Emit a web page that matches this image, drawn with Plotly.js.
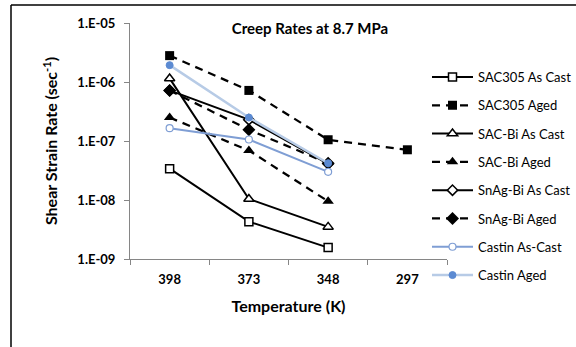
<!DOCTYPE html>
<html>
<head>
<meta charset="utf-8">
<script src="https://cdn.plot.ly/plotly-3.0.1.min.js"></script>
<style>html,body{margin:0;padding:0;background:#fff;overflow:hidden;}#chart{width:600px;height:347px;}</style>
</head>
<body>
<div id="chart"></div>
<script>
const temps = ['398', '373', '348', '297'];
const sac305AsCast = [3.4e-8, 4.3e-9, 1.56e-9];
const sac305Aged = [2.8e-6, 7.2e-7, 1.05e-7, 7.1e-8];
const sacBiAsCast = [1.15e-6, 1.04e-8, 3.5e-9];
const sacBiAged = [2.5e-7, 6.9e-8, 9.5e-9];
const snagBiAsCast = [7.2e-7, 2.3e-7, 4.1e-8];
const snagBiAged = [7.2e-7, 1.55e-7, 4.2e-8];
const castinAsCast = [1.65e-7, 1.06e-7, 3.0e-8];
const castinAged = [1.93e-6, 2.5e-7, 4.2e-8];
const seriesNames = ['SAC305 As Cast', 'SAC305 Aged', 'SAC-Bi As Cast', 'SAC-Bi Aged',
  'SnAg-Bi As Cast', 'SnAg-Bi Aged', 'Castin As-Cast', 'Castin Aged'];
const yTickVals = [1e-9, 1e-8, 1e-7, 1e-6, 1e-5];
const yTickText = ['1.E-09', '1.E-08', '1.E-07', '1.E-06', '1.E-05'];

const FONT = 'Lato, "Liberation Sans", sans-serif';
function tr(name, y, opts) {
  return Object.assign({
    type: 'scatter', mode: 'lines+markers', name: name, legendgroup: name,
    x: temps.slice(0, y.length), y: y
  }, opts);
}
const solid = {color: '#000', width: 2};
const dashed = {color: '#000', width: 2.25, dash: '8px,6px'};
const data = [
  tr(seriesNames[0], sac305AsCast, {line: solid, marker: {symbol: 'square', size: 8, color: '#fff', line: {color: '#000', width: 1.5}}}),
  tr(seriesNames[1], sac305Aged, {line: dashed, marker: {symbol: 'square', size: 9, color: '#000'}}),
  tr(seriesNames[2], sacBiAsCast, {line: solid, marker: {symbol: 'triangle-up', size: 9, color: '#fff', line: {color: '#000', width: 1.5}}}),
  tr(seriesNames[3], sacBiAged, {line: dashed, marker: {symbol: 'triangle-up', size: 10, color: '#000'}}),
  tr(seriesNames[4], snagBiAsCast, {line: solid, marker: {symbol: 'diamond', size: 8, color: '#fff', line: {color: '#000', width: 1.5}}}),
  tr(seriesNames[5], snagBiAged, {line: dashed, marker: {symbol: 'diamond', size: 10, color: '#000'}}),
  tr(seriesNames[6], castinAsCast, {line: {color: '#7f9ed4', width: 2}, marker: {symbol: 'circle', size: 7, color: '#fff', line: {color: '#7f9ed4', width: 1.2}}}),
  tr(seriesNames[7], castinAged, {line: {color: '#b7cbe6', width: 2.5}, marker: {symbol: 'circle', size: 7, color: '#5b8ad2', line: {color: '#5b8ad2', width: 1}}})
];

// plot area: left 130, right 447, top 23, bottom 259
const W = 600;
const L = 130, R = 447, T = 23, B = 259;
const px = v => (v - L) / (R - L);
const py = v => 1 - (v - T) / (B - T);

const layout = {
  width: W, height: 347,
  margin: {l: L, r: W - R, t: T, b: 347 - B, pad: 0},
  paper_bgcolor: '#fff', plot_bgcolor: '#fff',
  font: {family: FONT, color: '#000', size: 12},
  showlegend: true,
  title: {text: '<b>Creep Rates at 8.7 MPa</b>', font: {family: FONT, size: 15, color: '#000'},
    x: 310 / W, xanchor: 'center', xref: 'container', y: 1 - 29 / 347, yanchor: 'middle', yref: 'container'},
  xaxis: {
    type: 'category', categoryorder: 'array', categoryarray: temps,
    range: [-0.5, 3.5], tickson: 'boundaries', ticks: 'outside', ticklen: 5, tickcolor: '#868686',
    ticklabelstandoff: 8,
    showline: true, linecolor: '#868686', linewidth: 1, showgrid: false, zeroline: false,
    tickfont: {family: FONT, size: 13, color: '#000'},
    tickvals: temps, ticktext: temps.map(t => '<b>' + t + '</b>'),
    title: {text: '<b>Temperature (K)</b>', font: {family: FONT, size: 16, color: '#000'}, standoff: 15}
  },
  yaxis: {
    type: 'log', range: [-9, -5], tickvals: yTickVals, ticktext: yTickText.map(t => '<b>' + t + '</b>'),
    ticks: 'outside', ticklen: 5, tickcolor: '#868686', ticklabelstandoff: 6,
    showline: true, linecolor: '#868686', linewidth: 1, showgrid: false, zeroline: false,
    tickfont: {family: FONT, size: 13, color: '#000'},
    title: {text: '<b>Shear Strain Rate (sec<sup>-1</sup>)</b>', font: {family: FONT, size: 16, color: '#000'}, standoff: 15}
  },
  legend: {
    x: px(427), y: py(62), xanchor: 'left', yanchor: 'top',
    font: {family: FONT, size: 13, color: '#000'},
    bgcolor: 'rgba(0,0,0,0)', tracegroupgap: 8.4, traceorder: 'grouped', itemwidth: 41
  },
  shapes: [
    {type: 'line', xref: 'paper', yref: 'paper', x0: px(11), x1: px(W + 5), y0: py(5), y1: py(5), line: {color: '#000', width: 1.5}},
    {type: 'line', xref: 'paper', yref: 'paper', x0: px(11), x1: px(11), y0: py(5), y1: py(350), line: {color: '#000', width: 1.5}}
  ]
};

Plotly.newPlot('chart', data, layout, {displayModeBar: false, staticPlot: true});
</script>
</body>
</html>
